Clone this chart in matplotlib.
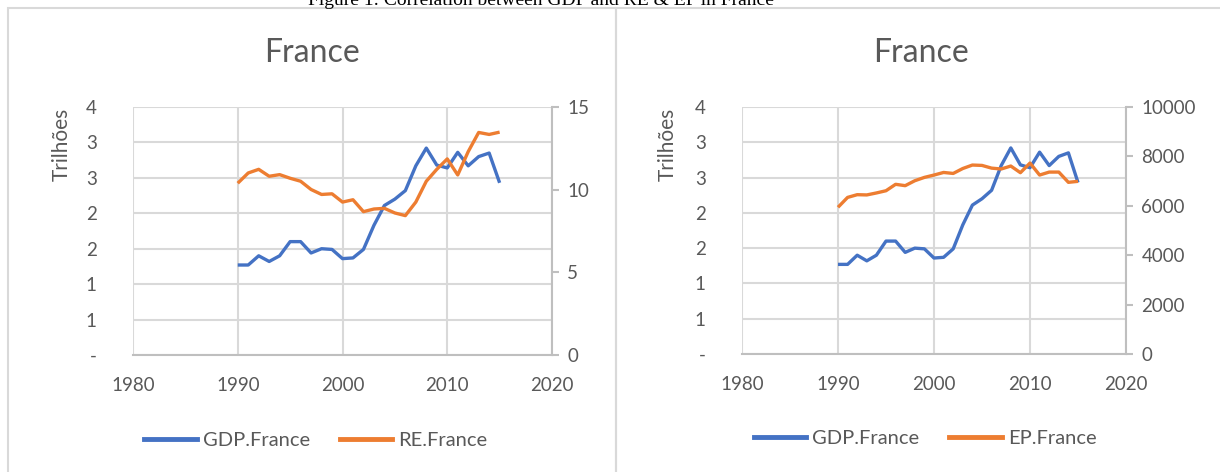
import matplotlib
matplotlib.use("Agg")
import matplotlib.pyplot as plt
from matplotlib.lines import Line2D
from matplotlib.patches import Rectangle

years = list(range(1990, 2016))
gdp_france = [1.27, 1.27, 1.40, 1.32, 1.40, 1.60, 1.60, 1.44, 1.50, 1.49,
              1.36, 1.37, 1.49, 1.83, 2.11, 2.20, 2.32, 2.67, 2.92, 2.68,
              2.64, 2.86, 2.67, 2.80, 2.85, 2.43]
re_france = [10.39, 11.01, 11.23, 10.81, 10.91, 10.69, 10.51, 10.01, 9.71, 9.75,
             9.25, 9.39, 8.67, 8.83, 8.87, 8.59, 8.43, 9.25, 10.51, 11.23,
             11.86, 10.89, 12.30, 13.46, 13.34, 13.48]
ep_france = [5940, 6340, 6450, 6440, 6520, 6610, 6870, 6815, 7015, 7150,
             7245, 7350, 7310, 7510, 7650, 7635, 7525, 7490, 7610, 7340,
             7730, 7245, 7365, 7365, 6950, 6990]

x_ticks = [1980, 1990, 2000, 2010, 2020]
left_ticks = [0, 0.5, 1.0, 1.5, 2.0, 2.5, 3.0, 3.5]
left_labels = ["-", "1", "1", "2", "2", "3", "3", "4"]
re_ticks = [0, 5, 10, 15]
ep_ticks = [0, 2000, 4000, 6000, 8000, 10000]

fig_title = "Figure 1: Correlation between GDP and RE & EP in France"
chart_title = "France"
y_label = "Trilhões"

BLUE = "#4472C4"
ORANGE = "#ED7D31"
GRID = "#D9D9D9"
TXT = "#595959"
FONT = ["Lato", "DejaVu Sans"]

W, H = 1220, 472
fig = plt.figure(figsize=(W / 100, H / 100), dpi=100)
fig.patch.set_facecolor("white")

def fx(px):
    return px / W

def fy(py):
    return 1 - py / H

# panel borders
for x0, x1 in [(8, 616), (616, 1230)]:
    fig.patches.append(Rectangle((fx(x0), fy(480)), fx(x1) - fx(x0), fy(8) - fy(480),
                                 transform=fig.transFigure, fill=False,
                                 edgecolor="#D9D9D9", linewidth=1.5, zorder=0))

fig.text(fx(541), fy(5), fig_title, ha="center", va="baseline",
         family=["Liberation Serif"], fontsize=14, color="black")


def make_panel(ax_px, sec_vals, sec_ticks, sec_label, sec_lim, title_x, ylab_x, leg_x, leg_y):
    x0, x1, y0, y1 = ax_px
    ax = fig.add_axes([fx(x0), fy(y1), fx(x1) - fx(x0), fy(y0) - fy(y1)])
    ax.set_xlim(1980, 2020)
    ax.set_ylim(0, 3.5)
    ax.set_xticks(x_ticks)
    ax.set_xticklabels([str(t) for t in x_ticks], family=FONT, fontsize=13.5, color=TXT)
    ax.set_yticks(left_ticks)
    ax.set_yticklabels(left_labels, family=FONT, fontsize=13.5, color=TXT)
    ax.grid(True, color=GRID, linewidth=1.5)
    ax.set_axisbelow(True)
    for s in ["top", "right", "left"]:
        ax.spines[s].set_visible(False)
    ax.spines["bottom"].set_color("#BFBFBF")
    ax.spines["bottom"].set_linewidth(1.5)
    ax.tick_params(axis="x", length=0, pad=16)
    ax.tick_params(axis="y", length=0, pad=26)
    l1, = ax.plot(years, gdp_france, color=BLUE, linewidth=2.4, solid_capstyle="butt", zorder=3)

    ax2 = ax.twinx()
    ax2.set_ylim(*sec_lim)
    ax2.set_yticks(sec_ticks)
    ax2.set_yticklabels([str(t) for t in sec_ticks], family=FONT, fontsize=13.5, color=TXT)
    for s in ["top", "left", "bottom"]:
        ax2.spines[s].set_visible(False)
    ax2.spines["right"].set_color("#BFBFBF")
    ax2.spines["right"].set_linewidth(1.5)
    ax2.tick_params(axis="y", length=5, width=1.5, color="#BFBFBF", pad=6)
    l2, = ax2.plot(years, sec_vals, color=ORANGE, linewidth=2.4, solid_capstyle="butt", zorder=3)

    fig.text(fx(title_x), fy(53), chart_title, ha="center", va="center",
             family=FONT, fontsize=23, color=TXT)
    fig.text(fx(ylab_x), fy(144), y_label, ha="center", va="center", rotation=90,
             family=FONT, fontsize=15, color=TXT)

    handles = [Line2D([0], [0], color=BLUE, linewidth=3.5),
               Line2D([0], [0], color=ORANGE, linewidth=3.5)]
    fig.legend(handles, ["GDP.France", sec_label], loc="center",
               bbox_to_anchor=(fx(leg_x), fy(leg_y)), ncol=2, frameon=False,
               prop={"family": FONT, "size": 14.5}, labelcolor=TXT,
               handlelength=2.6, handletextpad=0.3, columnspacing=1.5)
    return ax, ax2


make_panel((133, 552, 107, 355), re_france, re_ticks, "RE.France", (0, 15), 312, 62, 316, 440)
make_panel((742, 1126, 107, 354), ep_france, ep_ticks, "EP.France", (0, 10000), 921, 668, 925, 438)

fig.savefig("out.png", dpi=100, facecolor="white")
